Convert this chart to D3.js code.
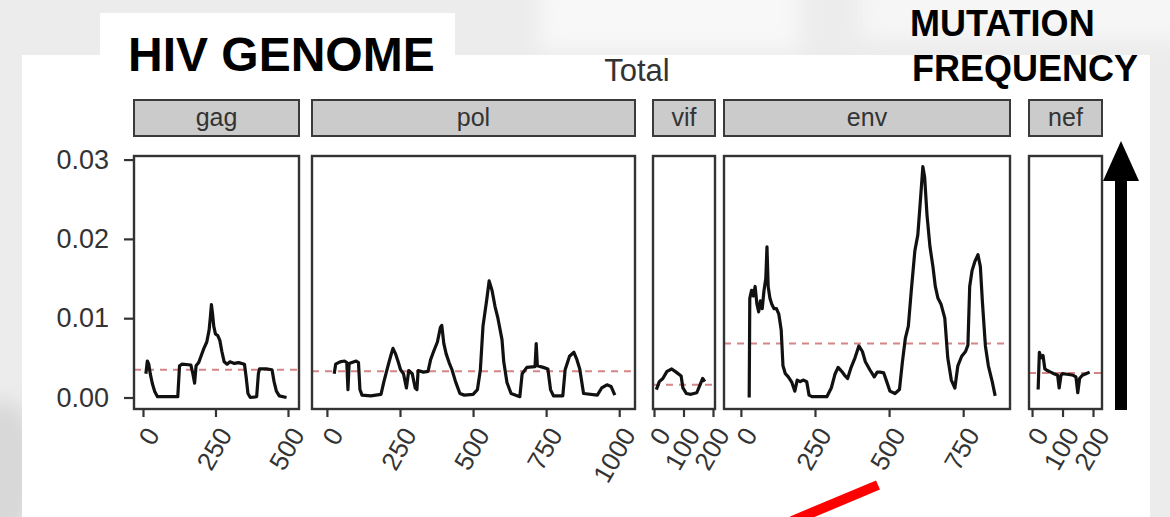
<!DOCTYPE html>
<html>
<head>
<meta charset="utf-8">
<script src="https://cdn.jsdelivr.net/npm/d3@7"></script>
<style>
  html, body { margin: 0; padding: 0; background: #ffffff; }
  svg { display: block; font-family: "Liberation Sans", Arial, sans-serif; }
</style>
</head>
<body>
<svg id="chart" width="1170" height="517"></svg>
<script>
// Gene panels, left to right along the HIV genome
const genes = ["gag", "pol", "vif", "env", "nef"];

// Sliding-window mutation frequency per gene: [codon position, frequency]
const gagFreq = [
  [10, 0.0030], [15, 0.0046], [20, 0.0042], [25, 0.0030], [32, 0.0018], [40, 0.0008],
  [50, 0.0001], [120, 0.0001], [126, 0.0040], [135, 0.0042], [165, 0.0041], [172, 0.0030],
  [178, 0.0018], [183, 0.0040], [192, 0.0044], [200, 0.0052], [210, 0.0062], [220, 0.0070],
  [228, 0.0085], [232, 0.0100], [236, 0.0117], [240, 0.0105], [244, 0.0090], [250, 0.0080],
  [258, 0.0078], [265, 0.0072], [272, 0.0058], [280, 0.0045], [290, 0.0042], [300, 0.0045],
  [315, 0.0043], [330, 0.0044], [350, 0.0042], [356, 0.0025], [362, 0.0005], [370, 0.0000],
  [392, 0.0001], [398, 0.0030], [402, 0.0036], [425, 0.0036], [445, 0.0035], [452, 0.0020],
  [460, 0.0008], [470, 0.0002], [495, 0.0000]
];
const polFreq = [
  [25, 0.0030], [30, 0.0042], [45, 0.0045], [60, 0.0046], [68, 0.0044], [72, 0.0010],
  [76, 0.0043], [100, 0.0046], [108, 0.0044], [113, 0.0010], [120, 0.0003], [150, 0.0002],
  [185, 0.0004], [195, 0.0020], [209, 0.0040], [218, 0.0052], [226, 0.0062], [235, 0.0055],
  [243, 0.0046], [252, 0.0035], [262, 0.0030], [272, 0.0012], [280, 0.0034], [292, 0.0030],
  [302, 0.0012], [308, 0.0010], [312, 0.0034], [330, 0.0032], [346, 0.0033], [355, 0.0048],
  [365, 0.0058], [378, 0.0070], [388, 0.0088], [393, 0.0091], [400, 0.0068], [408, 0.0055],
  [418, 0.0044], [428, 0.0035], [440, 0.0020], [455, 0.0005], [470, 0.0003], [500, 0.0004],
  [515, 0.0010], [525, 0.0035], [534, 0.0090], [547, 0.0124], [555, 0.0147], [565, 0.0135],
  [575, 0.0115], [585, 0.0100], [599, 0.0073], [605, 0.0045], [616, 0.0019], [630, 0.0005],
  [660, 0.0001], [668, 0.0030], [684, 0.0038], [712, 0.0039], [716, 0.0068], [720, 0.0040],
  [740, 0.0038], [756, 0.0036], [765, 0.0010], [775, 0.0002], [807, 0.0002], [815, 0.0035],
  [830, 0.0052], [845, 0.0057], [855, 0.0048], [865, 0.0036], [878, 0.0005], [925, 0.0003],
  [940, 0.0012], [958, 0.0016], [972, 0.0014], [985, 0.0003]
];
const vifFreq = [
  [8, 0.0010], [18, 0.0020], [30, 0.0024], [44, 0.0033], [60, 0.0036], [75, 0.0032],
  [92, 0.0027], [98, 0.0012], [110, 0.0005], [125, 0.0004], [145, 0.0006], [155, 0.0015],
  [165, 0.0024], [172, 0.0020]
];
const envFreq = [
  [28, 0.0000], [30, 0.0125], [36, 0.0135], [42, 0.0128], [48, 0.0140], [54, 0.0118],
  [60, 0.0108], [66, 0.0122], [72, 0.0112], [78, 0.0135], [84, 0.0150], [88, 0.0190],
  [92, 0.0140], [98, 0.0125], [104, 0.0118], [112, 0.0112], [120, 0.0112], [128, 0.0105],
  [136, 0.0085], [142, 0.0040], [150, 0.0030], [160, 0.0026], [172, 0.0019], [182, 0.0008],
  [190, 0.0022], [200, 0.0020], [210, 0.0022], [222, 0.0020], [230, 0.0003], [240, 0.0001],
  [290, 0.0001], [305, 0.0012], [318, 0.0030], [328, 0.0038], [340, 0.0033], [350, 0.0028],
  [360, 0.0024], [372, 0.0038], [385, 0.0050], [398, 0.0065], [410, 0.0058], [420, 0.0045],
  [435, 0.0035], [450, 0.0026], [460, 0.0032], [470, 0.0032], [482, 0.0031], [492, 0.0020],
  [503, 0.0008], [520, 0.0005], [535, 0.0010], [545, 0.0045], [555, 0.0075], [565, 0.0090],
  [575, 0.0135], [587, 0.0185], [597, 0.0205], [606, 0.0250], [614, 0.0291], [620, 0.0278],
  [628, 0.0230], [638, 0.0190], [648, 0.0165], [656, 0.0140], [665, 0.0125], [675, 0.0118],
  [688, 0.0100], [698, 0.0050], [710, 0.0022], [722, 0.0012], [732, 0.0040], [745, 0.0052],
  [758, 0.0058], [766, 0.0066], [772, 0.0140], [780, 0.0160], [790, 0.0172], [800, 0.0180],
  [808, 0.0165], [815, 0.0120], [825, 0.0065], [835, 0.0040], [848, 0.0020], [858, 0.0002]
];
const nefFreq = [
  [20, 0.0010], [24, 0.0057], [30, 0.0050], [36, 0.0053], [42, 0.0036], [50, 0.0034],
  [61, 0.0032], [72, 0.0030], [84, 0.0028], [89, 0.0012], [95, 0.0028], [100, 0.0030],
  [121, 0.0029], [135, 0.0028], [144, 0.0026], [150, 0.0006], [156, 0.0024], [165, 0.0028],
  [177, 0.0030], [189, 0.0032]
];

// Mean mutation frequency of each gene (dashed reference line)
const meanFreq = [0.0035, 0.0033, 0.0016, 0.0068, 0.0031];

// Axis tick values
const yTicks = [0, 0.01, 0.02, 0.03];
const gagTicks = [0, 250, 500];
const polTicks = [0, 250, 500, 750, 1000];
const vifTicks = [0, 100, 200];
const envTicks = [0, 250, 500, 750];
const nefTicks = [0, 100, 200];

const seriesByGene = [gagFreq, polFreq, vifFreq, envFreq, nefFreq];
const ticksByGene = [gagTicks, polTicks, vifTicks, envTicks, nefTicks];

// Facet layout (pixel extents and codon range shown in each panel)
const layout = [
  { left: 134, right: 299, lo: -31, hi: 538 },
  { left: 312, right: 635, lo: -51, hi: 1054 },
  { left: 653, right: 715, lo: -3.4, hi: 206.8 },
  { left: 724, right: 1010, lo: -57, hi: 908 },
  { left: 1029, right: 1102, lo: -10, hi: 229.5 }
];
const panelTop = 156, panelBottom = 409;
const stripTop = 100, stripBottom = 136;
const axisFont = "Liberation Sans, Arial, sans-serif";

const svg = d3.select("#chart");
const defs = svg.append("defs");
defs.append("filter").attr("id", "soft")
  .attr("x", "-20%").attr("y", "-20%").attr("width", "140%").attr("height", "140%")
  .append("feGaussianBlur").attr("stdDeviation", 10);

// Faded slide backdrop behind the chart
const bg = svg.append("g");
bg.append("rect").attr("width", 1170).attr("height", 517).attr("fill", "#ececec");
const back = bg.append("g").attr("filter", "url(#soft)");
back.append("rect").attr("x", 540).attr("y", -20).attr("width", 260).attr("height", 70).attr("fill", "#f8f8f8");
back.append("rect").attr("x", 860).attr("y", -20).attr("width", 330).attr("height", 60).attr("fill", "#f6f6f6");
back.append("ellipse").attr("cx", 0).attr("cy", 470).attr("rx", 40).attr("ry", 70).attr("fill", "#d8d8d8");
bg.append("rect").attr("x", 22).attr("y", 55).attr("width", 1128).attr("height", 462).attr("fill", "#ffffff");
bg.append("rect").attr("x", 100).attr("y", 13).attr("width", 355).attr("height", 45).attr("fill", "#ffffff");

const y = d3.scaleLinear().domain([-0.00145, 0.03045]).range([panelBottom, panelTop]);

const line = d3.line().x(d => d[0]).y(d => d[1]);

genes.forEach((gene, i) => {
  const L = layout[i];
  const x = d3.scaleLinear().domain([L.lo, L.hi]).range([L.left, L.right]);
  const g = svg.append("g");

  // strip
  g.append("rect")
    .attr("x", L.left).attr("y", stripTop)
    .attr("width", L.right - L.left).attr("height", stripBottom - stripTop)
    .attr("fill", "#cbcbcb").attr("stroke", "#3a3a3a").attr("stroke-width", 2);
  g.append("text")
    .attr("x", (L.left + L.right) / 2).attr("y", (stripTop + stripBottom) / 2)
    .attr("dy", "0.30em").attr("text-anchor", "middle")
    .attr("font-size", 25).attr("fill", "#333")
    .text(gene);

  // panel background
  g.append("rect")
    .attr("x", L.left).attr("y", panelTop)
    .attr("width", L.right - L.left).attr("height", panelBottom - panelTop)
    .attr("fill", "#ffffff");

  // mean line
  g.append("line")
    .attr("x1", L.left).attr("x2", L.right)
    .attr("y1", y(meanFreq[i])).attr("y2", y(meanFreq[i]))
    .attr("stroke", "#cf7070").attr("stroke-opacity", 0.85)
    .attr("stroke-width", 2).attr("stroke-dasharray", "7,6");

  // frequency trace
  g.append("path")
    .datum(seriesByGene[i].map(d => [x(d[0]), y(d[1])]))
    .attr("d", line)
    .attr("fill", "none").attr("stroke", "#111111")
    .attr("stroke-width", 3.2).attr("stroke-linejoin", "round");

  // panel border
  g.append("rect")
    .attr("x", L.left).attr("y", panelTop)
    .attr("width", L.right - L.left).attr("height", panelBottom - panelTop)
    .attr("fill", "none").attr("stroke", "#333333").attr("stroke-width", 2.4);

  // x axis
  const ax = g.append("g")
    .attr("transform", `translate(0,${panelBottom})`)
    .call(d3.axisBottom(x).tickValues(ticksByGene[i]).tickSize(8).tickSizeOuter(0).tickFormat(d3.format("d")));
  ax.select(".domain").remove();
  ax.selectAll(".tick line").attr("stroke", "#333").attr("stroke-width", 2.2);
  ax.selectAll(".tick text")
    .attr("font-size", 26).attr("fill", "#333").attr("font-family", axisFont)
    .attr("text-anchor", "end").attr("dy", "0.35em")
    .attr("transform", "translate(9,21) rotate(-60)")
    .attr("y", 0).attr("x", 0);
});

// y axis on the first panel
const ay = svg.append("g")
  .attr("transform", `translate(${layout[0].left},0)`)
  .call(d3.axisLeft(y).tickValues(yTicks).tickSize(10).tickSizeOuter(0).tickFormat(d3.format(".2f")));
ay.select(".domain").remove();
ay.selectAll(".tick line").attr("stroke", "#333").attr("stroke-width", 2.2);
ay.selectAll(".tick text")
  .attr("font-size", 27).attr("fill", "#333").attr("font-family", axisFont)
  .attr("x", -25);

// titles
svg.append("text").attr("x", 637).attr("y", 81).attr("text-anchor", "middle")
  .attr("font-size", 31).attr("fill", "#333").text("Total");
svg.append("text").attr("x", 128).attr("y", 71)
  .attr("font-size", 48).attr("font-weight", "bold").attr("fill", "#000").text("HIV GENOME");
svg.append("text").attr("x", 910).attr("y", 36)
  .attr("font-size", 36).attr("font-weight", "bold").attr("fill", "#000").text("MUTATION");
svg.append("text").attr("x", 912).attr("y", 81)
  .attr("font-size", 36).attr("font-weight", "bold").attr("fill", "#000").text("FREQUENCY");

// upward arrow beside the panels
svg.append("rect").attr("x", 1115).attr("y", 178).attr("width", 12).attr("height", 232).attr("fill", "#000");
svg.append("path").attr("d", "M1121,141 L1139,181 L1103,181 Z").attr("fill", "#000");

// red pointer at the bottom
svg.append("line").attr("x1", 878).attr("y1", 485).attr("x2", 792).attr("y2", 521)
  .attr("stroke", "#ff0000").attr("stroke-width", 10);
</script>
</body>
</html>
